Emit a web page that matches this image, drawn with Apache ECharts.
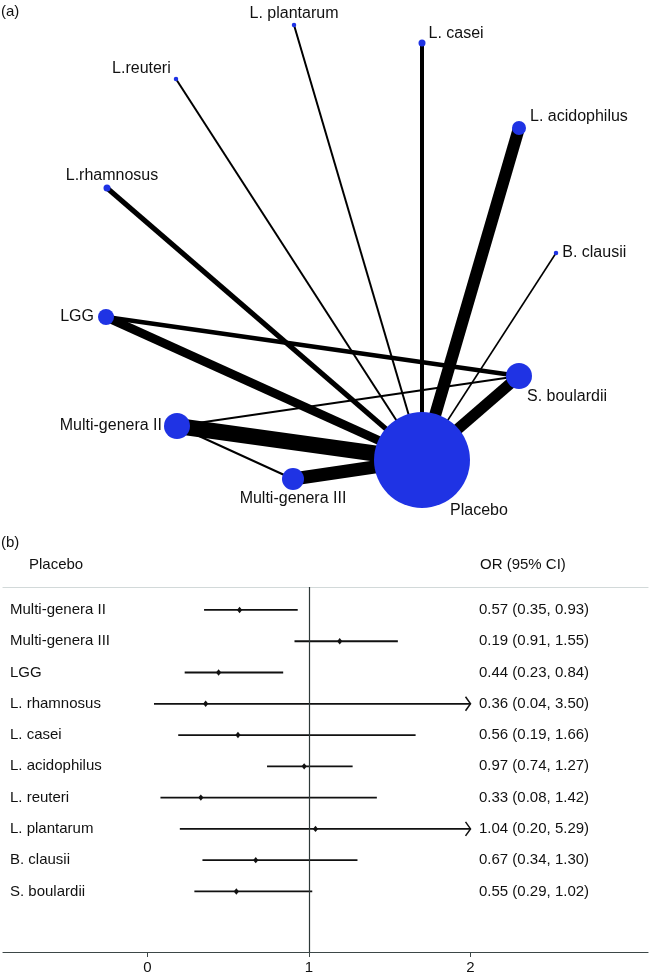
<!DOCTYPE html>
<html>
<head>
<meta charset="utf-8">
<script src="https://cdn.jsdelivr.net/npm/echarts@6/dist/echarts.min.js"></script>
<style>html,body{margin:0;padding:0;background:#fff}#c{width:651px;height:979px}</style>
</head>
<body>
<div id="c"></div>
<script>
// ---------- Network (a) ----------
const nodeNames = ['Placebo','Multi-genera II','Multi-genera III','LGG','L.rhamnosus','L.reuteri','L. plantarum','L. casei','L. acidophilus','B. clausii','S. boulardii'];
const nodeX = [422,177,293,106,107,176,294,422,519,556,519];
const nodeY = [460,426,479,317,188,79,25,43,128,253,376];
const nodeWeight = [96,26,22,16,7,4.5,4.5,7,14,4.5,26];
const edgeFrom = ['Placebo','Placebo','Placebo','Placebo','Placebo','Placebo','Placebo','Placebo','Placebo','Placebo','LGG','Multi-genera II','Multi-genera II'];
const edgeTo = ['Multi-genera II','Multi-genera III','LGG','L.rhamnosus','L.reuteri','L. plantarum','L. casei','L. acidophilus','B. clausii','S. boulardii','S. boulardii','S. boulardii','Multi-genera III'];
const edgeWeight = [16,13,9,5,2,2,4,12,1.6,11,4.5,2,2];

// ---------- Forest plot (b) ----------
const forestNames = ['Multi-genera II','Multi-genera III','LGG','L. rhamnosus','L. casei','L. acidophilus','L. reuteri','L. plantarum','B. clausii','S. boulardii'];
const orEst = [0.57,1.19,0.44,0.36,0.56,0.97,0.33,1.04,0.67,0.55];
const ciLow = [0.35,0.91,0.23,0.04,0.19,0.74,0.08,0.20,0.34,0.29];
const ciHigh = [0.93,1.55,0.84,3.50,1.66,1.27,1.42,5.29,1.30,1.02];
const orText = ['0.57 (0.35, 0.93)','0.19 (0.91, 1.55)','0.44 (0.23, 0.84)','0.36 (0.04, 3.50)','0.56 (0.19, 1.66)','0.97 (0.74, 1.27)','0.33 (0.08, 1.42)','1.04 (0.20, 5.29)','0.67 (0.34, 1.30)','0.55 (0.29, 1.02)'];
const xTicks = [0,1,2];
const ciClip = 2;

const FONT = 'Liberation Sans, Arial, sans-serif';
const NODE_COLOR = '#1f33e4';
const labelLayout = {
  'Placebo': {position:'bottom', distance:0, offset:[57,-5]},
  'Multi-genera II': {position:'left', distance:2},
  'Multi-genera III': {position:'bottom', distance:1},
  'LGG': {position:'left', distance:4},
  'L.rhamnosus': {position:'top', distance:1, offset:[5,0]},
  'L.reuteri': {position:'left', distance:3, offset:[0,-10]},
  'L. plantarum': {position:'top', distance:1},
  'L. casei': {position:'right', distance:3, offset:[0,-9]},
  'L. acidophilus': {position:'right', distance:4, offset:[0,-11]},
  'B. clausii': {position:'right', distance:4},
  'S. boulardii': {position:'right', distance:0, offset:[-5,21]}
};

const nodes = nodeNames.map((n,i)=>({
  name:n, value:[nodeX[i], nodeY[i]], symbolSize:nodeWeight[i],
  label:Object.assign({show:true, color:'#111', fontSize:16, fontFamily:FONT}, labelLayout[n])
}));
const links = edgeFrom.map((s,i)=>({source:s, target:edgeTo[i], lineStyle:{width:edgeWeight[i]}}));

const forestData = forestNames.map((n,i)=>[ciLow[i], ciHigh[i], orEst[i], i+1]);

const chart = echarts.init(document.getElementById('c'), null, {renderer:'canvas'});
chart.setOption({
  animation:false,
  backgroundColor:'#fff',
  textStyle:{fontFamily:FONT},
  title:[
    {text:'(a)', left:1, top:4, textStyle:{fontSize:15, fontWeight:'normal', color:'#111', fontFamily:FONT}, padding:0},
    {text:'(b)', left:1, top:535, textStyle:{fontSize:15, fontWeight:'normal', color:'#111', fontFamily:FONT}, padding:0},
    {text:'Placebo', left:29, top:557, textStyle:{fontSize:15, fontWeight:'normal', color:'#111', fontFamily:FONT}, padding:0},
    {text:'OR (95% CI)', left:480, top:557, textStyle:{fontSize:15, fontWeight:'normal', color:'#111', fontFamily:FONT}, padding:0}
  ],
  grid:[
    {left:0, top:0, width:651, height:540},
    {left:3, top:587, width:645, height:365}
  ],
  xAxis:[
    {gridIndex:0, type:'value', min:0, max:651, show:false},
    {gridIndex:1, type:'value', min:-0.895, max:3.099, position:'bottom',
     axisLine:{show:true, onZero:false, lineStyle:{color:'#3d4848', width:1.2}},
     axisTick:{show:true, customValues:xTicks, length:5, lineStyle:{color:'#3d4848'}},
     axisLabel:{show:true, customValues:xTicks, margin:8, fontSize:15, color:'#111', fontFamily:FONT},
     splitLine:{show:false}},
    {gridIndex:1, type:'value', min:-0.895, max:3.099, position:'top',
     axisLine:{show:true, onZero:false, lineStyle:{color:'#d2d9d9', width:1.2}},
     axisTick:{show:false}, axisLabel:{show:false}, splitLine:{show:false}}
  ],
  yAxis:[
    {gridIndex:0, type:'value', min:0, max:540, inverse:true, show:false},
    {gridIndex:1, type:'value', min:0.266, max:11.936, inverse:true, position:'left',
     axisLine:{show:false}, axisTick:{show:false}, splitLine:{show:false},
     axisLabel:{show:true, inside:true, margin:7, align:'left', customValues:forestNames.map((n,i)=>i+1),
       formatter:v=>forestNames[Math.round(v)-1] || '', fontSize:15, color:'#111', fontFamily:FONT}},
    {gridIndex:1, type:'value', min:0.266, max:11.936, inverse:true, position:'right',
     axisLine:{show:false}, axisTick:{show:false}, splitLine:{show:false},
     axisLabel:{show:true, inside:true, margin:169, align:'left', customValues:orText.map((n,i)=>i+1),
       formatter:v=>orText[Math.round(v)-1] || '', fontSize:15, color:'#111', fontFamily:FONT}}
  ],
  series:[
    {
      type:'graph', coordinateSystem:'cartesian2d', xAxisIndex:0, yAxisIndex:0,
      layout:'none', symbol:'circle', silent:true,
      itemStyle:{color:NODE_COLOR, opacity:1},
      lineStyle:{color:'#000', opacity:1, curveness:0},
      emphasis:{disabled:true},
      data:nodes, links:links, z:2
    },
    {
      type:'custom', xAxisIndex:1, yAxisIndex:1, silent:true,
      data:forestData,
      encode:{x:[0,1,2], y:3},
      renderItem:function(params, api){
        const lo = api.value(0), hi = api.value(1), est = api.value(2), row = api.value(3);
        const p0 = api.coord([lo, row]);
        const p1 = api.coord([Math.min(hi, ciClip), row]);
        const pe = api.coord([est, row]);
        const children = [
          {type:'line', shape:{x1:p0[0], y1:p0[1], x2:p1[0], y2:p1[1]}, style:{stroke:'#111', lineWidth:1.8}},
          {type:'polygon', shape:{points:[[pe[0], pe[1]-3.2],[pe[0]+2.6, pe[1]],[pe[0], pe[1]+3.2],[pe[0]-2.6, pe[1]]]}, style:{fill:'#111'}}
        ];
        if (hi > ciClip) {
          children.push({type:'polyline', shape:{points:[[p1[0]-5, p1[1]-7],[p1[0], p1[1]],[p1[0]-5, p1[1]+7]]},
            style:{stroke:'#111', lineWidth:1.5, fill:null}});
        }
        return {type:'group', children:children};
      },
      markLine:{
        silent:true, symbol:['none','none'], label:{show:false},
        lineStyle:{color:'#2d3838', width:1.2, type:'solid'},
        data:[{xAxis:1}]
      },
      z:3
    }
  ]
});
</script>
</body>
</html>
